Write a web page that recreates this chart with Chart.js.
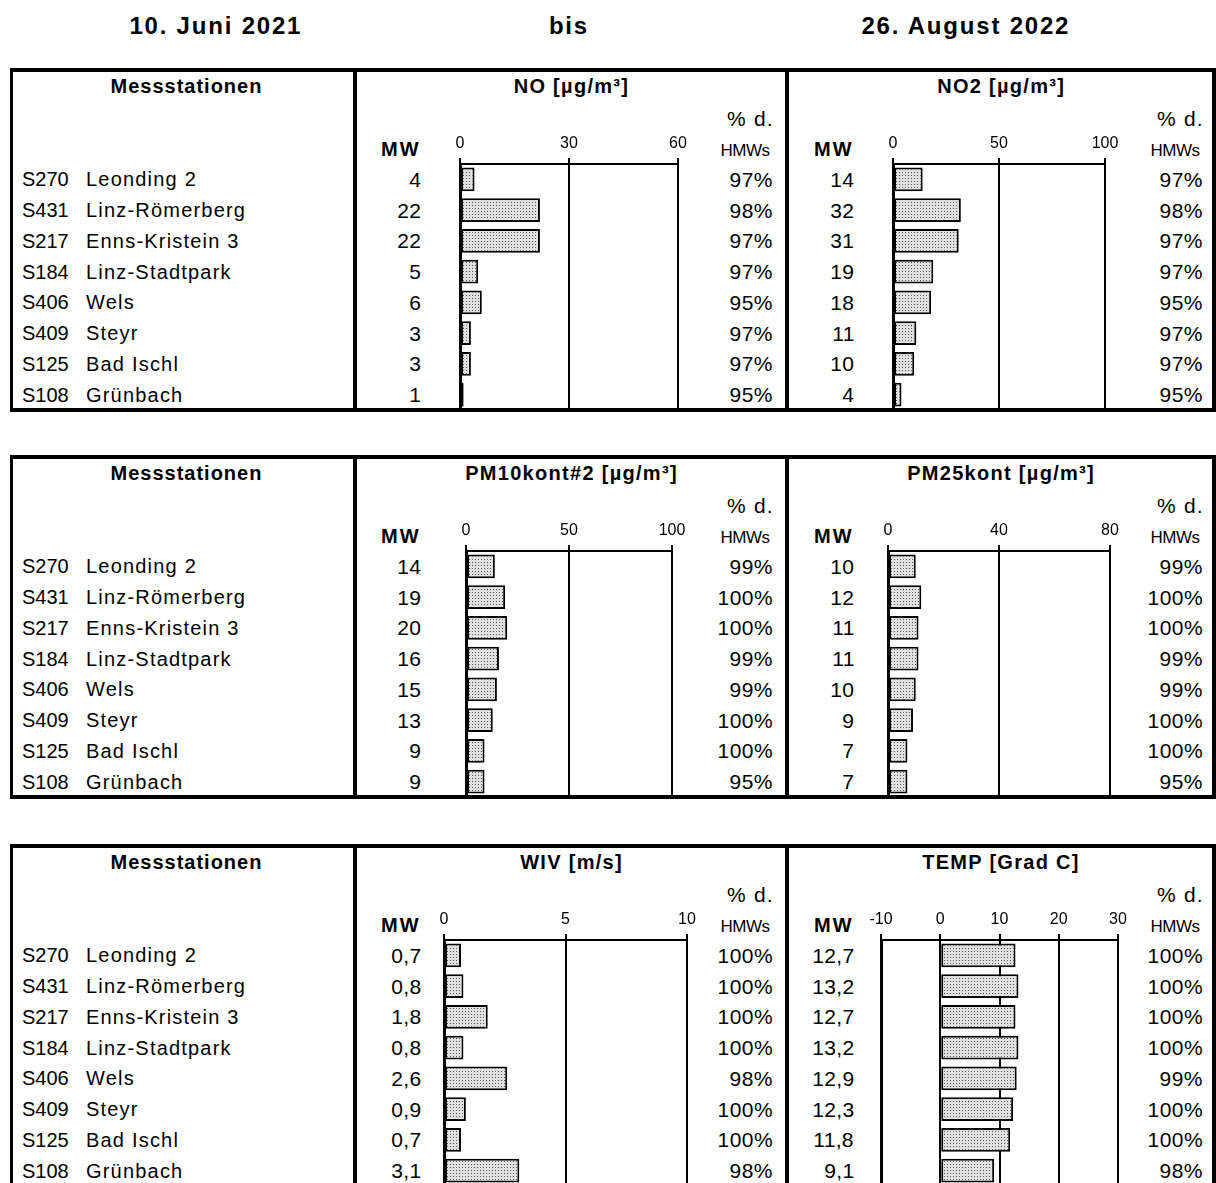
<!DOCTYPE html>
<html>
<head>
<meta charset="utf-8">
<script src="https://cdn.jsdelivr.net/npm/chart.js@4.4.1/dist/chart.umd.min.js"></script>
<style>
  html, body { margin: 0; padding: 0; background: #fff; }
  #page { position: relative; width: 1216px; height: 1183px; overflow: hidden; font-family: "Liberation Sans", Arial, sans-serif; color: #000; }
  .t { position: absolute; white-space: nowrap; line-height: 1; }
  .b { font-weight: bold; }
  .line { position: absolute; background: #000; }
  canvas { position: absolute; }
</style>
</head>
<body>
<div id="page"></div>
<script>
// ===========================
// Daten
// ===========================
const stationCodes = ['S270', 'S431', 'S217', 'S184', 'S406', 'S409', 'S125', 'S108'];
const stationNames = ['Leonding 2', 'Linz-Römerberg', 'Enns-Kristein 3', 'Linz-Stadtpark', 'Wels', 'Steyr', 'Bad Ischl', 'Grünbach'];

const noMw = [4, 22, 22, 5, 6, 3, 3, 1];
const noPct = [97, 98, 97, 97, 95, 97, 97, 95];
const no2Mw = [14, 32, 31, 19, 18, 11, 10, 4];
const no2Pct = [97, 98, 97, 97, 95, 97, 97, 95];

const pm10Mw = [14, 19, 20, 16, 15, 13, 9, 9];
const pm10Pct = [99, 100, 100, 99, 99, 100, 100, 95];
const pm25Mw = [10, 12, 11, 11, 10, 9, 7, 7];
const pm25Pct = [99, 100, 100, 99, 99, 100, 100, 95];

const wivMw = [0.7, 0.8, 1.8, 0.8, 2.6, 0.9, 0.7, 3.1];
const wivPct = [100, 100, 100, 100, 98, 100, 100, 98];
const tempMw = [12.7, 13.2, 12.7, 13.2, 12.9, 12.3, 11.8, 9.1];
const tempPct = [100, 100, 100, 100, 99, 100, 100, 98];

const titleParts = ['10. Juni 2021', 'bis', '26. August 2022'];

// Blöcke: Titel, Werte, Achsen
const blocks = [
  { top: 70, panels: [
    { title: 'NO [µg/m³]', mw: noMw, pct: noPct, min: 0, max: 60, step: 30, x0: 460, x1: 678 },
    { title: 'NO2 [µg/m³]', mw: no2Mw, pct: no2Pct, min: 0, max: 100, step: 50, x0: 893, x1: 1105 }
  ], closed: true },
  { top: 457, panels: [
    { title: 'PM10kont#2 [µg/m³]', mw: pm10Mw, pct: pm10Pct, min: 0, max: 100, step: 50, x0: 466, x1: 672 },
    { title: 'PM25kont [µg/m³]', mw: pm25Mw, pct: pm25Pct, min: 0, max: 80, step: 40, x0: 888, x1: 1110 }
  ], closed: true },
  { top: 846, panels: [
    { title: 'WIV [m/s]', mw: wivMw, pct: wivPct, min: 0, max: 10, step: 5, x0: 444, x1: 687, dec: true },
    { title: 'TEMP [Grad C]', mw: tempMw, pct: tempPct, min: -10, max: 30, step: 10, x0: 881, x1: 1118, dec: true }
  ], closed: false }
];

const page = document.getElementById('page');
const FONT = '"Liberation Sans", Arial, sans-serif';
const ROW_H = 30.75;
const AX_OFF = 94;     // Abstand Blockoberkante -> Achse
const AX_H = 35;       // Höhe der Achsbeschriftung
const PAD = 22;

// ===========================
// Hilfsfunktionen
// ===========================
function addText(txt, x, y, size, opts = {}) {
  const el = document.createElement('div');
  el.className = 't' + (opts.bold ? ' b' : '');
  el.textContent = txt;
  el.style.fontSize = size + 'px';
  const ls = opts.ls || 0;
  if (ls) el.style.letterSpacing = ls + 'px';
  page.appendChild(el);
  const w = el.offsetWidth - ls, h = el.offsetHeight; // letzter Abstand nicht mitzählen
  let left = x;
  if (opts.align === 'center') left = x - w / 2;
  if (opts.align === 'right') left = x - w;
  el.style.left = left + 'px';
  el.style.top = (y - h / 2) + 'px';
  return el;
}

function addLine(x, y, w, h) {
  const el = document.createElement('div');
  el.className = 'line';
  el.style.left = x + 'px';
  el.style.top = y + 'px';
  el.style.width = w + 'px';
  el.style.height = h + 'px';
  page.appendChild(el);
}

function fmt(v, dec) {
  return dec ? v.toFixed(1).replace('.', ',') : String(v);
}

// gepunktetes Füllmuster wie im Original
function makePattern(ctx) {
  const p = document.createElement('canvas');
  p.width = 3; p.height = 3;
  const c = p.getContext('2d');
  c.fillStyle = '#e0e0e0';
  c.fillRect(0, 0, 3, 3);
  c.fillStyle = '#5a5a5a';
  c.fillRect(1, 1, 1, 1);
  return ctx.createPattern(p, 'repeat');
}

// ===========================
// Titelzeile
// ===========================
addText(titleParts[0], 215, 26, 24, { bold: true, align: 'center', ls: 1.8 });
addText(titleParts[1], 568, 26, 24, { bold: true, align: 'center', ls: 1.8 });
addText(titleParts[2], 965, 26, 24, { bold: true, align: 'center', ls: 1.8 });

// ===========================
// Blöcke zeichnen
// ===========================
blocks.forEach(block => {
  const T = block.top;
  const axisY = T + AX_OFF;
  const bottom = axisY + ROW_H * 8;

  // Rahmen
  addLine(10, T - 2, 1206, 4);
  if (block.closed) addLine(10, bottom - 2, 1206, 4);
  const lineBottom = block.closed ? bottom : 1183;
  addLine(10, T, 3, lineBottom - T);
  addLine(353, T, 4, lineBottom - T);
  addLine(785, T, 4, lineBottom - T);
  addLine(1212, T, 4, lineBottom - T);

  // Stationen
  addText('Messstationen', 186, T + 16, 20, { bold: true, align: 'center', ls: 1 });
  stationCodes.forEach((code, i) => {
    const cy = axisY + ROW_H * (i + 0.5);
    addText(code, 22, cy, 20);
    addText(stationNames[i], 86, cy, 20, { ls: 1.2 });
  });

  block.panels.forEach((p, k) => {
    const colLeft = k === 0 ? 357 : 789;
    const colRight = k === 0 ? 785 : 1212;
    const mwRight = k === 0 ? 419 : 852;
    const pctRight = k === 0 ? 773 : 1203;

    addText(p.title, (colLeft + colRight) / 2, T + 16, 20, { bold: true, align: 'center', ls: 1.3 });
    addText('MW', mwRight, T + 79, 20, { bold: true, align: 'right', ls: 2 });
    addText('% d.', pctRight - 46, T + 48, 21, { ls: 1.2 });
    addText('HMWs', pctRight - 3, T + 80, 17, { align: 'right', ls: -0.5 });

    p.mw.forEach((v, i) => {
      const cy = axisY + ROW_H * (i + 0.5);
      addText(fmt(v, p.dec), mwRight + 2, cy, 21, { align: 'right', ls: 0.3 });
      addText(p.pct[i] + '%', pctRight, cy, 21, { align: 'right', ls: 0.5 });
    });

    // Balkendiagramm
    const cv = document.createElement('canvas');
    const w = (p.x1 - p.x0) + 2 * PAD;
    const h = AX_H + ROW_H * 8;
    cv.width = w; cv.height = h;
    cv.style.left = (p.x0 - PAD) + 'px';
    cv.style.top = (axisY - AX_H) + 'px';
    page.appendChild(cv);
    const ctx = cv.getContext('2d');

    new Chart(ctx, {
      type: 'bar',
      data: {
        labels: stationCodes,
        datasets: [{
          data: p.mw,
          backgroundColor: makePattern(ctx),
          borderColor: '#000',
          borderWidth: 2,
          borderSkipped: false,
          barPercentage: 0.78,
          categoryPercentage: 1
        }]
      },
      options: {
        indexAxis: 'y',
        responsive: false,
        animation: false,
        layout: { padding: { left: PAD, right: PAD, top: 0, bottom: 0 } },
        plugins: { legend: { display: false }, tooltip: { enabled: false } },
        scales: {
          x: {
            position: 'top',
            min: p.min,
            max: p.max,
            ticks: { stepSize: p.step, color: '#000', font: { family: FONT, size: 16 }, padding: 5, maxRotation: 0 },
            grid: { color: '#000', lineWidth: 2, tickLength: 6, drawOnChartArea: true },
            border: { display: true, color: '#000', width: 2 },
            afterFit: s => { s.height = AX_H; }
          },
          y: {
            ticks: { display: false },
            grid: { display: false },
            border: { display: true, color: '#000', width: 3 },
            afterFit: s => { s.width = 0; }
          }
        }
      }
    });
  });
});
</script>
</body>
</html>
